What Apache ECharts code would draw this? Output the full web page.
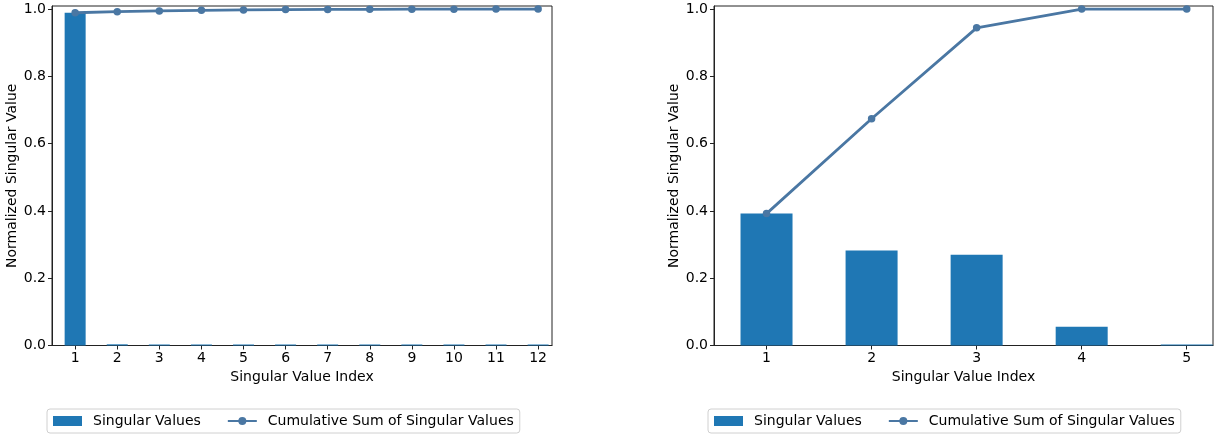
<!DOCTYPE html>
<html>
<head>
<meta charset="utf-8">
<script src="https://cdn.jsdelivr.net/npm/echarts@6/dist/echarts.min.js"></script>
<style>
html,body{margin:0;padding:0;background:#fff;}
#chart{width:1217px;height:434px;}
</style>
</head>
<body>
<div id="chart"></div>
<script>
// ---- data ----
const leftIndex = [1,2,3,4,5,6,7,8,9,10,11,12];
const leftSingular = [0.9890,0.0035,0.0016,0.0015,0.0014,0.0013,0.0004,0.0003,0.0003,0.0002,0.0002,0.0002];
const leftCumulative = [0.9890,0.9922,0.9945,0.9961,0.9973,0.9983,0.9988,0.9992,0.9995,0.9997,0.9999,1.0];

const rightIndex = [1,2,3,4,5];
const rightSingular = [0.392,0.282,0.270,0.056,0.0015];
const rightCumulative = [0.392,0.674,0.944,1.0,1.0];

const yTicks = [0,0.2,0.4,0.6,0.8,1.0];
const barName = 'Singular Values';
const lineName = 'Cumulative Sum of Singular Values';
const xTitle = 'Singular Value Index';
const yTitle = 'Normalized Singular Value';

// ---- styling ----
const FONT = 'DejaVu Sans';
const FS = 14;
const BAR_COLOR = '#1f77b4';
const LINE_COLOR = '#4a77a3';
const AX = '#222';

function pairs(xs, ys){ return xs.map((x,i)=>[x, ys[i]]); }

function xAxisCfg(gi, min, max, ticks){
  return {
    type:'value', gridIndex:gi, min:min, max:max,
    name:xTitle, nameLocation:'middle', nameGap:23,
    nameTextStyle:{fontFamily:FONT,fontSize:FS,color:'#000'},
    axisLine:{show:true,onZero:false,lineStyle:{color:AX,width:1}},
    axisTick:{show:true,length:4,inside:false,customValues:ticks,lineStyle:{color:AX}},
    axisLabel:{customValues:ticks,margin:6,fontFamily:FONT,fontSize:FS,color:'#000'},
    splitLine:{show:false}
  };
}
function yAxisCfg(gi){
  return {
    type:'value', gridIndex:gi, min:0, max:1.009,
    name:yTitle, nameLocation:'middle', nameGap:30, nameRotate:90,
    nameTextStyle:{fontFamily:FONT,fontSize:FS,color:'#000'},
    axisLine:{show:true,lineStyle:{color:AX,width:1}},
    axisTick:{show:true,length:4,customValues:yTicks,lineStyle:{color:AX}},
    axisLabel:{customValues:yTicks,margin:6,fontFamily:FONT,fontSize:FS,color:'#000',
      formatter:v=>v.toFixed(1)},
    splitLine:{show:false}
  };
}
function legendCfg(left){
  return {
    left:left, top:409, orient:'horizontal',
    data:[{name:barName,icon:'rect'},{name:lineName}],
    itemWidth:29, itemHeight:10, itemGap:26,
    padding:[5,6,5,6],
    borderColor:'#d0d0d0', borderWidth:1, borderRadius:3,
    textStyle:{fontFamily:FONT,fontSize:FS,color:'#000',padding:[0,0,0,6]}
  };
}

const chart = echarts.init(document.getElementById('chart'), null, {renderer:'canvas'});
chart.setOption({
  animation:false,
  backgroundColor:'#fff',
  grid:[
    {left:52, right:665, top:6, bottom:88.5, show:true, borderColor:AX, borderWidth:1, containLabel:false},
    {left:714, right:4, top:6, bottom:88.5, show:true, borderColor:AX, borderWidth:1, containLabel:false}
  ],
  xAxis:[ xAxisCfg(0, 0.45, 12.33, leftIndex), xAxisCfg(1, 0.5, 5.25, rightIndex) ],
  yAxis:[ yAxisCfg(0), yAxisCfg(1) ],
  legend:[ legendCfg(47), legendCfg(708) ],
  series:[
    {name:barName, type:'bar', xAxisIndex:0, yAxisIndex:0, data:pairs(leftIndex,leftSingular),
      barWidth:21, barMinHeight:1, itemStyle:{color:BAR_COLOR}, clip:true, z:2},
    {name:lineName, type:'line', xAxisIndex:0, yAxisIndex:0, data:pairs(leftIndex,leftCumulative),
      symbol:'circle', symbolSize:7.5, showSymbol:true, lineStyle:{color:LINE_COLOR,width:2.8},
      itemStyle:{color:LINE_COLOR}, z:3},
    {name:barName, type:'bar', xAxisIndex:1, yAxisIndex:1, data:pairs(rightIndex,rightSingular),
      barWidth:52, barMinHeight:1, itemStyle:{color:BAR_COLOR}, clip:true, z:2},
    {name:lineName, type:'line', xAxisIndex:1, yAxisIndex:1, data:pairs(rightIndex,rightCumulative),
      symbol:'circle', symbolSize:7.5, showSymbol:true, lineStyle:{color:LINE_COLOR,width:2.8},
      itemStyle:{color:LINE_COLOR}, z:3}
  ]
});
</script>
</body>
</html>
